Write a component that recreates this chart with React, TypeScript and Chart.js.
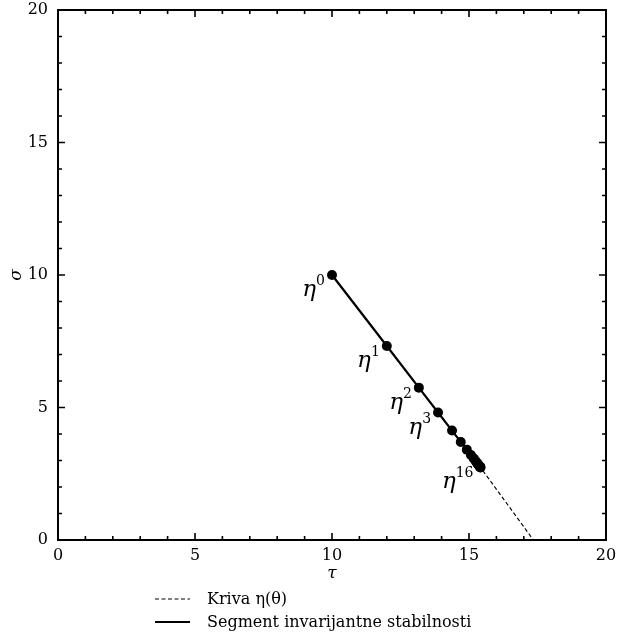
import React, { useEffect, useRef } from "react";
import { Chart, registerables } from "chart.js";

Chart.register(...registerables);

// Iterates η^k of the invariant-stability segment (τ, σ)
const iterTau = [10, 12, 13.17, 13.87, 14.38, 14.7, 14.92, 15.07, 15.17, 15.24, 15.29, 15.33, 15.36, 15.38, 15.4, 15.41, 15.42];
const iterSigma = [10, 7.32, 5.75, 4.81, 4.13, 3.7, 3.41, 3.21, 3.08, 2.98, 2.91, 2.86, 2.82, 2.79, 2.76, 2.75, 2.74];

// Curve η(θ)
const curveTau = [10, 12, 13.87, 15.42, 16.4, 17.35];
const curveSigma = [10, 7.32, 4.81, 2.74, 1.35, 0];

// Which iterates get a label (the exponent is the index)
const labelledIdx = [0, 1, 2, 3, 16];

const axisMin = 0;
const axisMax = 20;
const majorStep = 5;
const minorStep = 1;

const legendItems = ["Kriva η(θ)", "Segment invarijantne stabilnosti"];

const SERIF = '"DejaVu Serif", "Liberation Serif", serif';
const DASH = [4, 2.5];

const overlay = {
  id: "overlay",
  afterDatasetsDraw(chart: any) {
    const { ctx, chartArea: a, scales } = chart;
    const xs = scales.x;
    const ys = scales.y;
    ctx.save();
    ctx.strokeStyle = "#000";
    ctx.fillStyle = "#000";

    // frame
    ctx.lineWidth = 2;
    ctx.strokeRect(a.left, a.top, a.right - a.left, a.bottom - a.top);

    // inward ticks on all four sides
    ctx.lineWidth = 1.6;
    for (let v = axisMin; v <= axisMax + 1e-9; v += minorStep) {
      const major = Math.abs(v % majorStep) < 1e-9;
      const len = major ? 7 : 4;
      const px = xs.getPixelForValue(v);
      const py = ys.getPixelForValue(v);
      ctx.beginPath();
      ctx.moveTo(px, a.bottom);
      ctx.lineTo(px, a.bottom - len);
      ctx.moveTo(px, a.top);
      ctx.lineTo(px, a.top + len);
      ctx.moveTo(a.left, py);
      ctx.lineTo(a.left + len, py);
      ctx.moveTo(a.right, py);
      ctx.lineTo(a.right - len, py);
      ctx.stroke();
    }

    // axis titles
    ctx.font = `italic 17px ${SERIF}`;
    ctx.textAlign = "center";
    ctx.textBaseline = "middle";
    ctx.fillText("τ", (a.left + a.right) / 2, 574);
    ctx.save();
    ctx.translate(17, (a.top + a.bottom) / 2);
    ctx.rotate(-Math.PI / 2);
    ctx.fillText("σ", 0, 0);
    ctx.restore();

    // η^k labels
    for (const k of labelledIdx) {
      const px = xs.getPixelForValue(iterTau[k]);
      const py = ys.getPixelForValue(iterSigma[k]);
      const sup = String(k);
      ctx.font = `14px ${SERIF}`;
      const supW = ctx.measureText(sup).width;
      ctx.font = `italic 23px ${SERIF}`;
      const etaW = ctx.measureText("η").width;
      const right = px - 7;
      const base = py + 21;
      ctx.textAlign = "left";
      ctx.textBaseline = "alphabetic";
      ctx.fillText("η", right - supW - etaW, base);
      ctx.font = `14px ${SERIF}`;
      ctx.fillText(sup, right - supW, base - 11);
    }

    // legend
    const lx0 = 155;
    const lx1 = 190;
    const rows = [599, 622];
    ctx.lineWidth = 1.1;
    ctx.setLineDash(DASH);
    ctx.beginPath();
    ctx.moveTo(lx0, rows[0]);
    ctx.lineTo(lx1, rows[0]);
    ctx.stroke();
    ctx.setLineDash([]);
    ctx.lineWidth = 2.2;
    ctx.beginPath();
    ctx.moveTo(lx0, rows[1]);
    ctx.lineTo(lx1, rows[1]);
    ctx.stroke();
    ctx.font = `16px ${SERIF}`;
    ctx.textAlign = "left";
    ctx.textBaseline = "middle";
    legendItems.forEach((t, i) => ctx.fillText(t, 207, rows[i] + 1));

    ctx.restore();
  },
};

const noScalePadding = (s: any) => {
  s.paddingLeft = 0;
  s.paddingRight = 0;
  s.paddingTop = 0;
  s.paddingBottom = 0;
};

export default function App() {
  const ref = useRef<HTMLCanvasElement | null>(null);

  useEffect(() => {
    if (!ref.current) return;
    const tickFont = { family: SERIF, size: 16 };
    const chart = new Chart(ref.current, {
      type: "line",
      data: {
        datasets: [
          {
            label: legendItems[0],
            data: curveTau.map((t, i) => ({ x: t, y: curveSigma[i] })),
            borderColor: "#000",
            borderWidth: 1.1,
            borderDash: DASH,
            pointRadius: 0,
            fill: false,
            order: 2,
          },
          {
            label: legendItems[1],
            data: iterTau.map((t, i) => ({ x: t, y: iterSigma[i] })),
            borderColor: "#000",
            borderWidth: 2.2,
            pointRadius: 5,
            pointBackgroundColor: "#000",
            pointBorderWidth: 0,
            fill: false,
            order: 1,
          },
        ],
      },
      options: {
        responsive: false,
        animation: false,
        layout: { padding: { top: 10, right: 11, left: 0, bottom: 0 } },
        plugins: { legend: { display: false }, tooltip: { enabled: false } },
        scales: {
          x: {
            type: "linear",
            min: axisMin,
            max: axisMax,
            grid: { display: false, drawTicks: false },
            border: { display: false },
            ticks: { stepSize: majorStep, color: "#000", font: tickFont, padding: 6, maxRotation: 0 },
            afterFit: (s: any) => {
              s.height = 99;
              noScalePadding(s);
            },
          },
          y: {
            type: "linear",
            min: axisMin,
            max: axisMax,
            grid: { display: false, drawTicks: false },
            border: { display: false },
            ticks: { stepSize: majorStep, color: "#000", font: tickFont, padding: 10 },
            afterFit: (s: any) => {
              s.width = 58;
              noScalePadding(s);
            },
          },
        },
      },
      plugins: [overlay],
    });
    return () => chart.destroy();
  }, []);

  return (
    <div style={{ position: "fixed", left: 0, top: 0, width: 617, height: 639, background: "#fff" }}>
      <canvas ref={ref} width={617} height={639} />
    </div>
  );
}
